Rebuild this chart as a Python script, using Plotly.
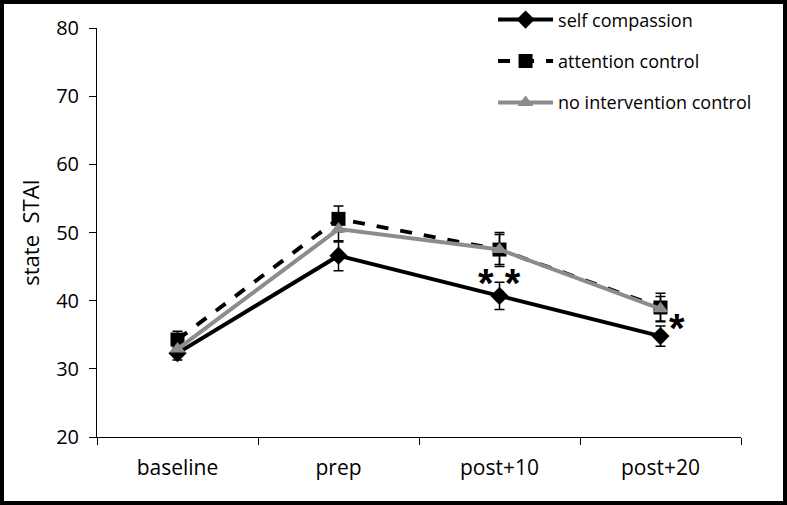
import plotly.graph_objects as go

categories = ["baseline", "prep", "post+10", "post+20"]
self_compassion = [32.3, 46.6, 40.7, 34.8]
self_compassion_err = [1.0, 2.2, 2.0, 1.5]
attention_control = [34.3, 52.0, 47.5, 39.0]
attention_control_err = [1.2, 1.9, 2.5, 2.1]
no_intervention = [32.9, 50.5, 47.5, 38.8]
no_intervention_err = [1.1, 1.9, 2.2, 1.8]
y_ticks = [20, 30, 40, 50, 60, 70, 80]

FONT = "Open Sans, Lato, sans-serif"

fig = go.Figure()

def err(vals):
    return dict(type="data", array=vals, color="black", thickness=1.5, width=5, visible=True)

fig.add_trace(go.Scatter(
    x=categories, y=self_compassion, name="self compassion", mode="lines+markers",
    line=dict(color="black", width=4),
    marker=dict(symbol="diamond", size=14, color="black"),
    error_y=err(self_compassion_err), legendgroup="a"))
fig.add_trace(go.Scatter(
    x=categories, y=attention_control, name="attention control", mode="lines+markers",
    line=dict(color="black", width=4, dash="dash"),
    marker=dict(symbol="square", size=14, color="black"),
    error_y=err(attention_control_err), legendgroup="b"))
fig.add_trace(go.Scatter(
    x=categories, y=no_intervention, name="no intervention control", mode="lines+markers",
    line=dict(color="#8c8c8c", width=4),
    marker=dict(symbol="triangle-up", size=14, color="#8c8c8c"),
    error_y=err(no_intervention_err), legendgroup="c"))

fig.add_annotation(x=categories[2], y=42.6, text="<b>* *</b>", showarrow=False,
                   font=dict(family="Liberation Sans", size=40, color="black"), yanchor="middle")
fig.add_annotation(x=3.1, y=36.0, text="<b>*</b>", showarrow=False, xref="x",
                   font=dict(family="Liberation Sans", size=40, color="black"), yanchor="middle")

W, H = 787, 505
L, R, T, B = 97, 46, 28, 68
pw, ph = W - L - R, H - T - B
fig.add_shape(type="rect", xref="paper", yref="paper",
              x0=(2 - L) / pw, x1=(W - 2 - L) / pw,
              y0=-(H - 2 - (H - B)) / ph, y1=(H - B - 2) / ph,
              line=dict(color="black", width=4), layer="above")

fig.update_layout(
    width=W, height=H,
    margin=dict(l=L, r=R, t=T, b=B, autoexpand=False),
    paper_bgcolor="white", plot_bgcolor="white",
    font=dict(family=FONT, size=18, color="black"),
    showlegend=True,
    legend=dict(x=0.615, y=1.065, xanchor="left", yanchor="top",
                bgcolor="rgba(0,0,0,0)", tracegroupgap=15, itemwidth=55,
                font=dict(size=18)),
    xaxis=dict(type="category", range=[-0.5, 3.5], tickson="boundaries",
               ticks="outside", ticklen=7, tickcolor="black", showline=True,
               linecolor="black", linewidth=1, showgrid=False, zeroline=False,
               tickfont=dict(size=21), ticklabelstandoff=12),
    yaxis=dict(range=[20, 80], tickvals=y_ticks, ticks="outside", ticklen=7,
               tickcolor="black", showline=True, linecolor="black", linewidth=1,
               showgrid=False, zeroline=False, title=dict(text="state  STAI", standoff=10),
               tickfont=dict(size=20), ticklabelstandoff=6),
)

fig.write_html("out.html", post_script="document.body.style.margin='0';",
               config={"displayModeBar": False})
